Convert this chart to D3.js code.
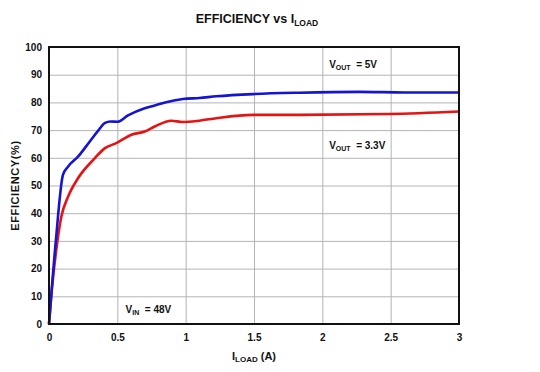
<!DOCTYPE html>
<html lang="en">
<head>
<meta charset="UTF-8">
<title>Efficiency vs ILOAD</title>
<script src="https://cdn.jsdelivr.net/npm/d3@7"></script>
<style>
  body { margin: 0; background: #fff; }
  svg text { font-family: "Liberation Sans", Arial, sans-serif; font-weight: bold; fill: #111; white-space: pre; }
  .grid line { stroke: #b4b4b4; stroke-width: 1; }
  .grid .domain { display: none; }
  .ticks .domain, .ticks line { display: none; }
</style>
</head>
<body>
<script>
  // values
  const iLoad5 = [0, 0.05, 0.102, 0.139, 0.212, 0.30, 0.36, 0.41, 0.45, 0.5, 0.578, 0.70, 0.773, 0.85, 0.98, 1.1, 1.225, 1.493, 1.834, 2.27, 2.6, 3.0];
  const eff5 = [0, 30, 53.8, 56.8, 60.4, 66.0, 69.8, 72.6, 73.1, 73.0, 75.3, 77.9, 78.9, 80.0, 81.2, 81.6, 82.2, 83.0, 83.5, 83.8, 83.6, 83.6];
  const iLoad33 = [0, 0.02, 0.05, 0.09, 0.139, 0.212, 0.334, 0.407, 0.493, 0.603, 0.70, 0.773, 0.895, 0.98, 1.1, 1.225, 1.493, 1.834, 2.49, 3.0];
  const eff33 = [0, 12, 25.5, 38.7, 45.9, 52.6, 59.8, 63.4, 65.3, 68.3, 69.5, 71.3, 73.4, 72.9, 73.4, 74.3, 75.5, 75.5, 75.8, 76.7];
  const xTicks = [0, 0.5, 1, 1.5, 2, 2.5, 3];
  const xTickLabels = ['0', '0.5', '1', '1.5', '2', '2.5', '3'];
  const yTicks = [0, 10, 20, 30, 40, 50, 60, 70, 80, 90, 100];

  const width = 540, height = 372;
  const margin = { top: 47, right: 81, bottom: 48, left: 49 };

  const svg = d3.select('body').append('svg')
    .attr('width', width)
    .attr('height', height);

  const x = d3.scaleLinear().domain([0, 3]).range([margin.left, width - margin.right]);
  const y = d3.scaleLinear().domain([0, 100]).range([height - margin.bottom, margin.top]);

  // grid
  svg.append('g').attr('class', 'grid')
    .attr('transform', `translate(0, ${height - margin.bottom})`)
    .call(d3.axisBottom(x).tickValues(xTicks).tickSize(-(y(0) - y(100))).tickFormat(''));
  svg.append('g').attr('class', 'grid')
    .attr('transform', `translate(${margin.left}, 0)`)
    .call(d3.axisLeft(y).tickValues(yTicks).tickSize(-(x(3) - x(0))).tickFormat(''));

  // tick labels
  svg.append('g').attr('class', 'ticks')
    .attr('transform', `translate(0, ${height - margin.bottom})`)
    .call(d3.axisBottom(x).tickValues(xTicks).tickSize(0).tickPadding(10).tickFormat((d, i) => xTickLabels[i]))
    .selectAll('text').attr('font-size', 10).style('font-family', '"Liberation Sans", Arial, sans-serif').style('font-weight', 'bold');
  svg.append('g').attr('class', 'ticks')
    .attr('transform', `translate(${margin.left}, 0)`)
    .call(d3.axisLeft(y).tickValues(yTicks).tickSize(0).tickPadding(7))
    .selectAll('text').attr('font-size', 10).style('font-family', '"Liberation Sans", Arial, sans-serif').style('font-weight', 'bold');

  const line = d3.line().x(d => x(d[0])).y(d => y(d[1])).curve(d3.curveMonotoneX);

  svg.append('path')
    .datum(iLoad33.map((v, i) => [v, eff33[i]]))
    .attr('fill', 'none').attr('stroke', '#e41414').attr('stroke-width', 2.6)
    .attr('d', line);
  svg.append('path')
    .datum(iLoad5.map((v, i) => [v, eff5[i]]))
    .attr('fill', 'none').attr('stroke', '#1414d2').attr('stroke-width', 2.6)
    .attr('d', line);

  // frame
  svg.append('rect')
    .attr('x', x(0)).attr('y', y(100))
    .attr('width', x(3) - x(0)).attr('height', y(0) - y(100))
    .attr('fill', 'none').attr('stroke', '#111').attr('stroke-width', 2);

  // title
  const title = svg.append('text')
    .attr('x', (x(0) + x(3)) / 2 + 3).attr('y', 23)
    .attr('text-anchor', 'middle').attr('font-size', 12.5);
  title.append('tspan').text('EFFICIENCY vs I');
  title.append('tspan').attr('font-size', 8.5).attr('dy', 3).text('LOAD');

  // x label
  const xl = svg.append('text')
    .attr('x', (x(0) + x(3)) / 2).attr('y', 360)
    .attr('text-anchor', 'middle').attr('font-size', 11);
  xl.append('tspan').text('I');
  xl.append('tspan').attr('font-size', 8).attr('dy', 2).text('LOAD');
  xl.append('tspan').attr('dy', -2).text(' (A)');

  // y label
  svg.append('text')
    .attr('transform', `translate(19, ${(y(0) + y(100)) / 2}) rotate(-90)`)
    .attr('text-anchor', 'middle').attr('font-size', 11)
    .attr('letter-spacing', 0.6)
    .text('EFFICIENCY(%)');

  // annotations
  function vlabel(px, py, sub, rest) {
    const t = svg.append('text').attr('x', px).attr('y', py).attr('font-size', 10);
    t.append('tspan').text('V');
    t.append('tspan').attr('font-size', 7).attr('dy', 2).text(sub);
    t.append('tspan').attr('dy', -2).text(rest);
  }
  vlabel(x(2.05), y(92.5), 'OUT', '  = 5V');
  vlabel(x(2.05), y(63), 'OUT', '  = 3.3V');
  vlabel(x(0.56), y(4), 'IN', '  = 48V');
</script>
</body>
</html>
